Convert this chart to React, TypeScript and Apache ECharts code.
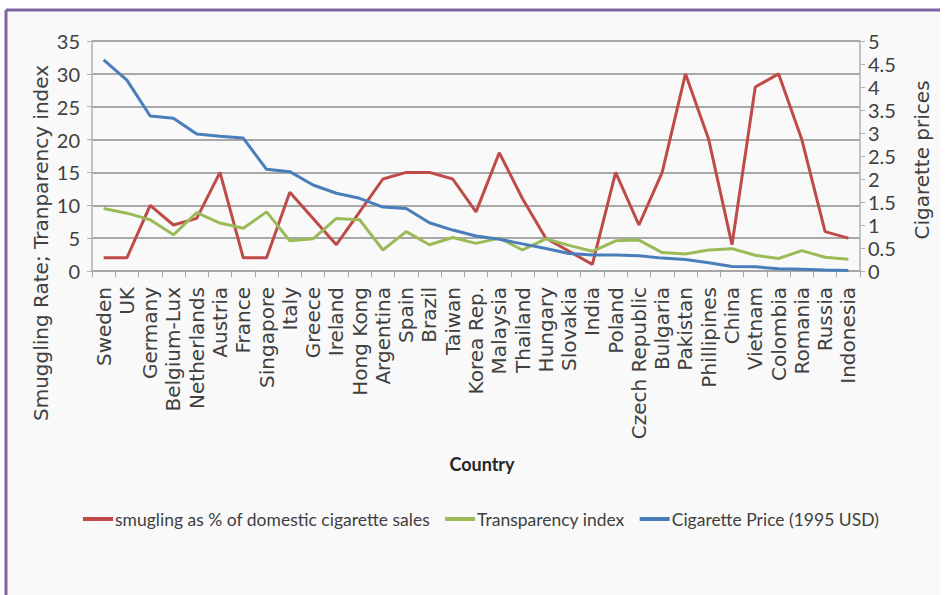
import React, { useEffect, useRef } from "react";
import * as echarts from "echarts";

const countries = [
  "Sweden", "UK", "Germany", "Belgium-Lux", "Netherlands", "Austria", "France",
  "Singapore", "Italy", "Greece", "Ireland", "Hong Kong", "Argentina", "Spain",
  "Brazil", "Taiwan", "Korea Rep.", "Malaysia", "Thailand", "Hungary", "Slovakia",
  "India", "Poland", "Czech Republic", "Bulgaria", "Pakistan", "Phillipines",
  "China", "Vietnam", "Colombia", "Romania", "Russia", "Indonesia",
];

const smuggling = [
  2, 2, 10, 7, 8, 15, 2, 2, 12, 8, 4, 9, 14, 15, 15, 14, 9, 18, 11, 5, 3, 1,
  15, 7, 15, 30, 20, 4, 28, 30, 20, 6, 5,
];

const transparency = [
  9.5, 8.8, 7.8, 5.5, 8.9, 7.3, 6.5, 9.0, 4.6, 4.9, 8.0, 7.8, 3.2, 6.0, 4.0,
  5.1, 4.2, 5.0, 3.2, 4.9, 3.9, 3.0, 4.6, 4.7, 2.8, 2.6, 3.2, 3.4, 2.4, 1.9,
  3.1, 2.1, 1.8,
];

const price = [
  4.59, 4.15, 3.37, 3.32, 2.98, 2.93, 2.89, 2.21, 2.16, 1.87, 1.69, 1.58, 1.39,
  1.36, 1.05, 0.89, 0.76, 0.69, 0.59, 0.49, 0.38, 0.35, 0.35, 0.33, 0.28, 0.25,
  0.18, 0.1, 0.09, 0.05, 0.04, 0.02, 0.01,
];

const seriesNames = [
  "smugling as % of domestic cigarette sales",
  "Transparency index",
  "Cigarette Price (1995 USD)",
];

const NARROW = 'Lato, "Liberation Sans", sans-serif';
const WIDE = '"DejaVu Sans", "Open Sans", sans-serif';

export default function App() {
  const ref = useRef<HTMLDivElement>(null);

  useEffect(() => {
    if (!ref.current) return;
    const chart = echarts.init(ref.current, undefined, { renderer: "svg" });
    chart.setOption({
      animation: false,
      backgroundColor: "#ffffff",
      graphic: [
        {
          type: "rect",
          z: -10,
          shape: { x: 6, y: 10, width: 934, height: 585 },
          style: { fill: "#f9f9f9", stroke: "none" },
        },
        {
          type: "line",
          z: -5,
          shape: { x1: 6, y1: 10, x2: 940, y2: 10 },
          style: { stroke: "#8064a2", lineWidth: 3 },
        },
        {
          type: "line",
          z: -5,
          shape: { x1: 6, y1: 10, x2: 6, y2: 595 },
          style: { stroke: "#8064a2", lineWidth: 3 },
        },
        {
          type: "text",
          x: 41,
          y: 243,
          rotation: Math.PI / 2,
          style: {
            text: "Smuggling Rate; Tranparency index",
            fontFamily: WIDE,
            fontSize: 20,
            fill: "#404040",
            align: "center",
            verticalAlign: "middle",
          },
        },
        {
          type: "text",
          x: 922,
          y: 160,
          rotation: Math.PI / 2,
          style: {
            text: "Cigarette prices",
            fontFamily: WIDE,
            fontSize: 20,
            fill: "#404040",
            align: "center",
            verticalAlign: "middle",
          },
        },
        {
          type: "text",
          x: 482,
          y: 464,
          style: {
            text: "Country",
            fontFamily: NARROW,
            fontSize: 18,
            fontWeight: "bold",
            fill: "#262626",
            align: "center",
            verticalAlign: "middle",
          },
        },
      ],
      grid: { left: 92, right: 86, top: 41, bottom: 324, containLabel: false },
      legend: {
        left: 78,
        top: 505,
        width: 860,
        icon: "rect",
        itemWidth: 30,
        itemHeight: 4,
        itemGap: 15,
        textStyle: { fontFamily: NARROW, fontSize: 17.5, color: "#404040", padding: [0, 0, 0, -3] },
        data: seriesNames,
      },
      xAxis: {
        type: "category",
        data: countries,
        boundaryGap: true,
        axisLine: { show: true, lineStyle: { color: "#a6a6a6", width: 1.5 } },
        axisTick: { show: true, length: 6, lineStyle: { color: "#a6a6a6" } },
        axisLabel: {
          interval: 0,
          rotate: 90,
          margin: 16,
          fontFamily: WIDE,
          fontSize: 20,
          color: "#404040",
        },
      },
      yAxis: [
        {
          type: "value",
          min: 0,
          max: 35,
          interval: 5,
          axisLine: { show: true, lineStyle: { color: "#b0b0b0", width: 1.5 } },
          axisTick: { show: true, length: 5, lineStyle: { color: "#b0b0b0" } },
          axisLabel: { fontFamily: NARROW, fontSize: 20, color: "#404040", margin: 12 },
          splitLine: { show: true, lineStyle: { color: "#8c8c8c", width: 1.6 } },
        },
        {
          type: "value",
          min: 0,
          max: 5,
          interval: 0.5,
          position: "right",
          axisLine: { show: true, lineStyle: { color: "#b0b0b0", width: 1.5 } },
          axisTick: { show: true, length: 5, lineStyle: { color: "#b0b0b0" } },
          axisLabel: { fontFamily: NARROW, fontSize: 20, color: "#404040", margin: 8 },
          splitLine: { show: false },
        },
      ],
      series: [
        {
          name: seriesNames[0],
          type: "line",
          yAxisIndex: 0,
          data: smuggling,
          showSymbol: false,
          symbol: "none",
          lineStyle: { color: "#be4b48", width: 3 },
          itemStyle: { color: "#be4b48" },
        },
        {
          name: seriesNames[1],
          type: "line",
          yAxisIndex: 0,
          data: transparency,
          showSymbol: false,
          symbol: "none",
          lineStyle: { color: "#9bbb59", width: 3 },
          itemStyle: { color: "#9bbb59" },
        },
        {
          name: seriesNames[2],
          type: "line",
          yAxisIndex: 1,
          data: price,
          showSymbol: false,
          symbol: "none",
          lineStyle: { color: "#4a7ebb", width: 3 },
          itemStyle: { color: "#4a7ebb" },
        },
      ],
    });
    return () => chart.dispose();
  }, []);

  return (
    <div
      ref={ref}
      style={{ position: "fixed", left: 0, top: 0, width: 946, height: 595 }}
    />
  );
}
